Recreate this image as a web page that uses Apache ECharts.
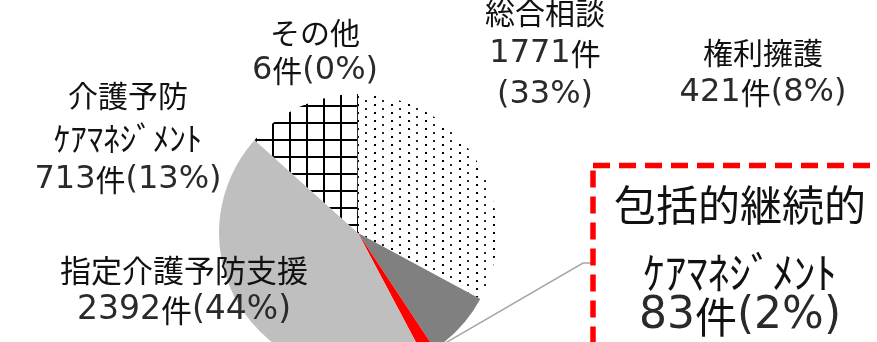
<!DOCTYPE html>
<html><head><meta charset="utf-8">
<script src="https://cdn.jsdelivr.net/npm/echarts@6/dist/echarts.min.js"></script>
<style>html,body{margin:0;padding:0;background:#fff}#c{width:877px;height:342px}</style>
</head><body><div id="c"></div>
<script>
// ---- data ----
const NAMES = ['総合相談', '権利擁護', '包括的継続的\nｹｱﾏﾈｼﾞﾒﾝﾄ', '指定介護予防支援', '介護予防\nｹｱﾏﾈｼﾞﾒﾝﾄ', 'その他'];
const VALUES = [1771, 421, 83, 2392, 713, 6];
const PCTS = [33, 8, 2, 44, 13, 0];
const COUNT_PCT_SPLIT = [true, false, false, false, false, false];

// ---- patterns ----
function mk(w, h, draw) { const c = document.createElement('canvas'); c.width = w; c.height = h; const g = c.getContext('2d'); draw(g); return c; }
const dots = mk(17, 8, g => { g.fillStyle = '#fff'; g.fillRect(0, 0, 17, 8); g.fillStyle = '#000'; g.fillRect(0, 0, 2, 2); g.fillStyle = '#222'; g.fillRect(8, 4, 2, 2); });
const grid = mk(17, 17, g => { g.fillStyle = '#fff'; g.fillRect(0, 0, 17, 17); g.fillStyle = '#000'; g.fillRect(0, 0, 2, 17); g.fillRect(0, 3, 17, 2); });
const COLORS = [{ image: dots, repeat: 'repeat' }, '#808080', '#ff0000', '#bfbfbf', { image: grid, repeat: 'repeat' }, '#000'];

// ---- label styling ----
const KFONT = '"Noto Sans CJK JP",sans-serif';
const DFONT = '"DejaVu Sans","Noto Sans CJK JP",sans-serif';
const LS = [
  { x: 545, y: 54, k: [30, 30, 30], d: 32, lh: [41, 41, 41] },
  { x: 763, y: 73, k: [30, 30], d: 32, lh: [40, 40] },
  { x: 740, y: 249, k: [42, 43, 42], d: 44, lh: [90, 46, 42] },
  { x: 184, y: 290, k: [31, 31], d: 33, lh: [40, 40] },
  { x: 128, y: 138, k: [30, 33, 30], d: 32, lh: [42, 42, 42] },
  { x: 315, y: 52, k: [30, 30], d: 32, lh: [38, 38] }
];

function tok(s, li) {
  return s.split(/([0-9()%]+)/).filter(x => x).map(x => /^[0-9()%]+$/.test(x) ? `{d${li}|${x}}` : `{k${li}|${x}}`).join('');
}

const data = NAMES.map((n, i) => {
  const lines = n.split('\n');
  if (COUNT_PCT_SPLIT[i]) { lines.push(VALUES[i] + '件', '(' + PCTS[i] + '%)'); }
  else lines.push(VALUES[i] + '件(' + PCTS[i] + '%)');
  const rich = {};
  lines.forEach((l, li) => {
    rich['k' + li] = { fontSize: LS[i].k[li], fontFamily: KFONT, color: '#111', lineHeight: LS[i].lh[li] };
    rich['d' + li] = { fontSize: LS[i].d, fontFamily: DFONT, color: '#2a2a2a', lineHeight: LS[i].lh[li] };
  });
  return {
    name: n, value: VALUES[i],
    itemStyle: { color: COLORS[i] },
    label: { formatter: lines.map((l, li) => tok(l, li)).join('\n'), rich: rich },
    labelLine: { show: i === 2, lineStyle: { color: '#a6a6a6', width: 1.5 } }
  };
});

const chart = echarts.init(document.getElementById('c'), null, { renderer: 'canvas' });
chart.setOption({
  backgroundColor: '#fff',
  animation: false,
  graphic: [{
    type: 'rect', z: 10,
    shape: { x: 593, y: 165.5, width: 400, height: 300 },
    style: { fill: 'none', stroke: '#ff0000', lineWidth: 5.5, lineDash: [17, 9] }
  }],
  series: [{
    type: 'pie',
    center: [358, 233],
    radius: 139,
    startAngle: 90,
    clockwise: true,
    avoidLabelOverlap: false,
    itemStyle: { borderWidth: 0 },
    emphasis: { disabled: true },
    label: { show: true, position: 'outside', align: 'center' },
    labelLine: { show: false, length: 10, length2: 10 },
    labelLayout: function (p) {
      const s = LS[p.dataIndex];
      const r = { x: s.x, y: s.y, align: 'center', verticalAlign: 'middle' };
      if (p.dataIndex === 2 && p.labelLinePoints) {
        r.labelLinePoints = [p.labelLinePoints[0], [583, 263], [593, 263]];
      }
      return r;
    },
    data: data
  }]
});
</script></body></html>
